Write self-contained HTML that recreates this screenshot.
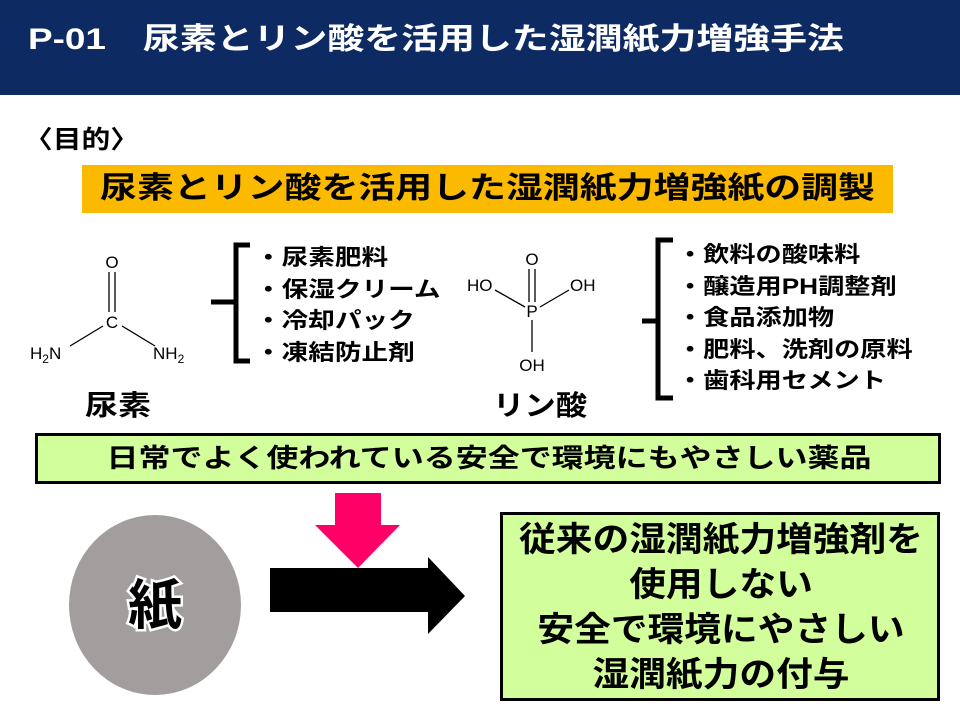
<!DOCTYPE html>
<html><head><meta charset="utf-8"><style>
body{margin:0;width:960px;height:720px;background:#fff;position:relative;overflow:hidden;font-family:"Liberation Sans","Noto Sans CJK JP",sans-serif;}
div{position:absolute;}
.b{font-weight:bold;}
.list{font-size:22px;line-height:31.5px;font-weight:bold;color:#000;white-space:nowrap;transform-origin:left top;}
</style></head><body>
<div style="left:0;top:0;width:960px;height:95px;background:#0d2a63;"></div>
<div class="b" style="left:28px;top:14px;color:#fff;font-size:30px;white-space:nowrap;transform:scaleX(1.23);transform-origin:left top;">P-01　尿素とリン酸を活用した湿潤紙力増強手法</div>
<div class="b" style="left:24px;top:120px;font-size:25px;transform:scaleX(1.15);transform-origin:left top;">〈目的〉</div>
<div style="left:82px;top:165px;width:811px;height:48px;background:#fbb900;"></div>
<div class="b" style="left:82px;top:168px;width:811px;text-align:center;font-size:30px;line-height:42px;white-space:nowrap;transform:scaleX(1.23);transform-origin:center top;">尿素とリン酸を活用した湿潤紙力増強紙の調製</div>

<svg style="position:absolute;left:0;top:0" width="960" height="720">
<g font-family="Liberation Sans, sans-serif" font-size="17" fill="#000">
<text x="112" y="268" text-anchor="middle">O</text>
<text x="112" y="328" text-anchor="middle">C</text>
<text x="30" y="359">H<tspan font-size="12" dy="4">2</tspan><tspan dy="-4">N</tspan></text>
<text x="153" y="359">NH<tspan font-size="12" dy="4">2</tspan></text>
<text x="532" y="265" text-anchor="middle">O</text>
<text x="467" y="291">HO</text>
<text x="570" y="291">OH</text>
<text x="532" y="317" text-anchor="middle">P</text>
<text x="532" y="371" text-anchor="middle">OH</text>
</g>
<g stroke="#000" stroke-width="1.3" fill="none">
<line x1="109" y1="272" x2="109" y2="312"/><line x1="115" y1="272" x2="115" y2="312"/>
<line x1="103" y1="326" x2="70" y2="346"/><line x1="122" y1="326" x2="155" y2="346"/>
<line x1="529" y1="269" x2="529" y2="302"/><line x1="535" y1="269" x2="535" y2="302"/>
<line x1="495" y1="290" x2="525" y2="307"/><line x1="569" y1="290" x2="540" y2="307"/>
<line x1="532" y1="320" x2="532" y2="352"/>
</g>
<g stroke="#000" stroke-width="5" fill="none">
<path d="M250 245 H236 V361 H250 M236 302 H211"/>
<path d="M673 240 H658 V398 H673 M658 321 H642"/>
</g>
<rect x="36.5" y="434.5" width="903" height="48" fill="#d2ff9c" stroke="#000" stroke-width="3"/>
<rect x="501.5" y="513.5" width="437" height="186" fill="#d2ff9c" stroke="#000" stroke-width="3"/>
<polygon points="335,493 381,493 381,525 400,525 358,568 315,525 335,525" fill="#ff0066"/>
<ellipse cx="155" cy="605" rx="86" ry="90" fill="#a19e9d"/>
<polygon points="270,568 428,568 428,557 465,596 428,634 428,612 270,612" fill="#000"/>
<text x="155" y="624" text-anchor="middle" font-family="Noto Sans CJK JP, sans-serif" font-weight="bold" font-size="54" fill="#000" stroke="#fff" stroke-width="5" paint-order="stroke">紙</text>
</svg>

<div class="b" style="left:85px;top:384px;font-size:28px;transform:scaleX(1.18);transform-origin:left top;">尿素</div>
<div class="b" style="left:493px;top:384px;font-size:28px;transform:scaleX(1.12);transform-origin:left top;">リン酸</div>
<div class="list" style="left:255px;top:242px;transform:scaleX(1.21);">・尿素肥料<br>・保湿クリーム<br>・冷却パック<br>・凍結防止剤</div>
<div class="list" style="left:677px;top:239px;transform:scaleX(1.19);">・飲料の酸味料<br>・醸造用PH調整剤<br>・食品添加物<br>・肥料、洗剤の原料<br>・歯科用セメント</div>
<div class="b" style="left:36px;top:440px;width:906px;text-align:center;font-size:26px;line-height:36px;white-space:nowrap;transform:scaleX(1.23);transform-origin:center top;">日常でよく使われている安全で環境にもやさしい薬品</div>
<div class="b" style="left:501px;top:518px;width:440px;text-align:center;font-size:34px;line-height:45px;white-space:nowrap;transform:scaleX(1.08);transform-origin:center top;">従来の湿潤紙力増強剤を<br>使用しない<br>安全で環境にやさしい<br>湿潤紙力の付与</div>
</body></html>
